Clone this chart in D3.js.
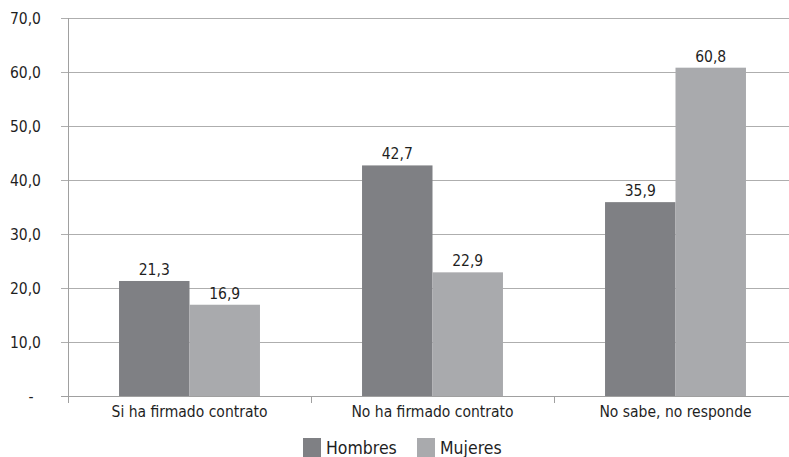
<!DOCTYPE html>
<html>
<head>
<meta charset="utf-8">
<script src="https://cdn.jsdelivr.net/npm/d3@7"></script>
<style>
  html, body { margin: 0; padding: 0; background: #fff; }
  svg { display: block; font-family: "DejaVu Sans Condensed", "DejaVu Sans", sans-serif; }
</style>
</head>
<body>
<svg id="chart" width="789" height="457"></svg>
<script>
// Chart data
const categories = ["Si ha firmado contrato", "No ha firmado contrato", "No sabe, no responde"];
const seriesNames = ["Hombres", "Mujeres"];
const hombres = [21.3, 42.7, 35.9];
const mujeres = [16.9, 22.9, 60.8];
const yTicks = [0, 10, 20, 30, 40, 50, 60, 70];

const colors = { Hombres: "#7f8084", Mujeres: "#a9aaad" };
const series = { Hombres: hombres, Mujeres: mujeres };

const svg = d3.select("#chart");
const plotLeft = 68, plotRight = 797, plotTop = 18, plotBottom = 396;
const fontSize = 15.5;

const fmt = v => v === 0 ? "-" : d3.format(".1f")(v).replace(".", ",");

const y = d3.scaleLinear().domain([0, 70]).range([plotBottom, plotTop]);
const x0 = d3.scaleBand().domain(categories).range([plotLeft, plotRight]).padding(0);
const bw = x0.bandwidth();
const x1 = d3.scaleBand().domain(seriesNames).range([bw * 0.21, bw * 0.79]).padding(0);

// Horizontal gridlines
svg.append("g")
  .selectAll("line")
  .data(yTicks.filter(t => t > 0))
  .join("line")
  .attr("x1", plotLeft - 7).attr("x2", plotRight)
  .attr("y1", d => Math.round(y(d)) + 0.5).attr("y2", d => Math.round(y(d)) + 0.5)
  .attr("stroke", "#aeaeae").attr("stroke-width", 1);

// Y tick labels
svg.append("g")
  .selectAll("text")
  .data(yTicks)
  .join("text")
  .attr("x", d => d === 0 ? 31 : 41)
  .attr("y", d => y(d))
  .attr("dy", "0.36em")
  .attr("text-anchor", d => d === 0 ? "middle" : "end")
  .attr("font-size", fontSize)
  .attr("fill", "#1f1f1f")
  .text(fmt);

// Bars
const groups = svg.append("g")
  .selectAll("g")
  .data(categories)
  .join("g")
  .attr("transform", d => `translate(${x0(d)},0)`);

groups.selectAll("rect")
  .data((d, i) => seriesNames.map(s => ({ s, v: series[s][i] })))
  .join("rect")
  .attr("x", d => x1(d.s))
  .attr("width", x1.bandwidth())
  .attr("y", d => y(d.v))
  .attr("height", d => y(0) - y(d.v))
  .attr("fill", d => colors[d.s]);

// Value labels
groups.selectAll("text")
  .data((d, i) => seriesNames.map(s => ({ s, v: series[s][i] })))
  .join("text")
  .attr("x", d => x1(d.s) + x1.bandwidth() / 2)
  .attr("y", d => y(d.v) - 6)
  .attr("text-anchor", "middle")
  .attr("font-size", fontSize)
  .attr("fill", "#1f1f1f")
  .text(d => fmt(d.v));

// Axis lines
svg.append("line")
  .attr("x1", plotLeft + 0.5).attr("x2", plotLeft + 0.5)
  .attr("y1", plotTop).attr("y2", plotBottom + 7)
  .attr("stroke", "#a0a0a0");
svg.append("line")
  .attr("x1", plotLeft - 7).attr("x2", plotRight)
  .attr("y1", plotBottom + 0.5).attr("y2", plotBottom + 0.5)
  .attr("stroke", "#a0a0a0");

// Category tick marks at band boundaries
svg.append("g")
  .selectAll("line")
  .data(categories.slice(1).map(c => x0(c)).concat([plotRight]))
  .join("line")
  .attr("x1", d => Math.round(d) + 0.5).attr("x2", d => Math.round(d) + 0.5)
  .attr("y1", plotBottom).attr("y2", plotBottom + 7)
  .attr("stroke", "#a0a0a0");

// Category labels
svg.append("g")
  .selectAll("text")
  .data(categories)
  .join("text")
  .attr("x", d => x0(d) + bw / 2)
  .attr("y", 417)
  .attr("text-anchor", "middle")
  .attr("font-size", fontSize)
  .attr("fill", "#1f1f1f")
  .text(d => d);

// Legend
const legend = svg.append("g");
const legendItems = [{ name: "Hombres", x: 303 }, { name: "Mujeres", x: 417 }];
legend.selectAll("rect")
  .data(legendItems)
  .join("rect")
  .attr("x", d => d.x).attr("y", 438)
  .attr("width", 18).attr("height", 19)
  .attr("fill", d => colors[d.name]);
legend.selectAll("text")
  .data(legendItems)
  .join("text")
  .attr("x", d => d.x + 23)
  .attr("y", 454)
  .attr("font-size", 17.5)
  .attr("fill", "#1f1f1f")
  .text(d => d.name);
</script>
</body>
</html>
